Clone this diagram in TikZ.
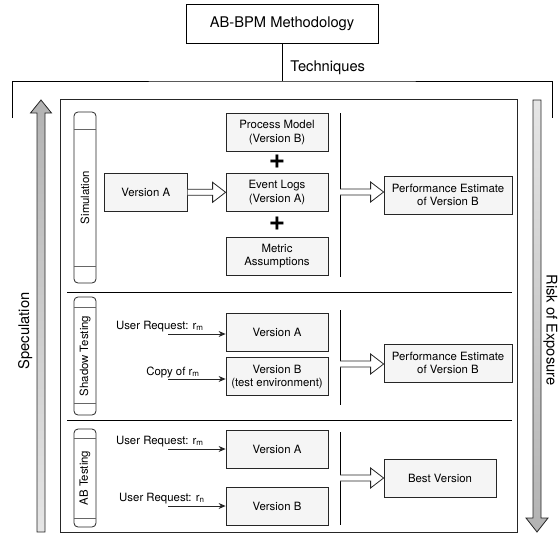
\documentclass[tikz,border=0pt]{standalone}
\usepackage{fontspec}
\setmainfont{TeX Gyre Heros}
\usetikzlibrary{arrows.meta,positioning,calc}

% hollow block arrow between two points
\newcommand\blockarrow[2]{%
  \draw[blk] ($(#1)+(0,-3)$) -- ($(#2)+(-13,-3)$) -- ($(#2)+(-13,-10)$) -- (#2)
    -- ($(#2)+(-13,10)$) -- ($(#2)+(-13,3)$) -- ($(#1)+(0,3)$);}

\begin{document}
\begin{tikzpicture}[
  x=1pt, y=-1pt,
  line width=0.8pt,
  title/.style={draw, fill=white, minimum width=192pt, minimum height=39pt, font=\fontsize{14.7}{17}\selectfont},
  big/.style={font=\fontsize{14.7}{17}\selectfont, inner sep=0pt},
  box/.style={draw=black!85, fill=gray!8, minimum width=102pt, minimum height=38pt, inner sep=2pt, align=center, font=\fontsize{11.4}{13.5}\selectfont},
  tag/.style={rotate=90, draw=black!85, fill=white, rounded corners=4pt, minimum height=22pt, inner sep=0pt, font=\fontsize{11.4}{13}\selectfont},
  band/.style={draw=black!60},
  lbl/.style={font=\fontsize{11.4}{13}\selectfont, inner sep=0pt},
  plus/.style={font=\fontsize{28}{28}\selectfont\bfseries, inner sep=0pt},
  arr/.style={-{Stealth[length=7pt, width=6pt]}, draw=black!85},
  blk/.style={draw=black!85, fill=white}
]
  \useasboundingbox (0,0) rectangle (559,533);

  % top of the tree
  \node[title] (meth) at (282,23.5) {AB-BPM Methodology};
  \coordinate (bar) at (282,81);
  \coordinate (bl) at (12,118);
  \coordinate (br) at (552,118);
  \draw (meth) -- (bar);
  \draw (bl) |- (bar) -| (br);
  \node[big, anchor=base west] (tech) at (290,71) {Techniques};

  % frame and side arrows
  \draw[black!85] (60,99) rectangle (517,532);
  \shadedraw[draw=black!85, bottom color=gray!20, top color=gray!60]
    (37,532) -- (37,113) -- (30.5,113) -- (41,100) -- (51.5,113) -- (45,113) -- (45,532) -- cycle;
  \shadedraw[draw=black!85, top color=gray!20, bottom color=gray!60]
    (533,100) -- (533,518) -- (526,518) -- (537,532) -- (548,518) -- (541,518) -- (541,100) -- cycle;
  \node[big, rotate=90, anchor=base] (spec) at (29,331) {Speculation};
  \node[big, rotate=-90, anchor=base] (risk) at (546.5,330) {Risk of Exposure};

  \draw (67,292) -- (512,292);
  \draw (67,420) -- (512,420);

  % simulation
  \node[tag, minimum width=171pt] (simtag) at (85,197.5) {Simulation};
  \draw[band] (74,129) -- (96,129);
  \draw[band] (74,266) -- (96,266);
  \node[box] (procb) at (277,132.5) {Process Model\\(Version B)};
  \node[box, below=21pt of procb] (logs) {Event Logs\\(Version A)};
  \node[box, below=25pt of logs] (metric) {Metric\\Assumptions};
  \node[box, minimum width=83pt, left=38pt of logs] (vera) {Version A};
  \node[plus] (plusa) at (277,162) {+};
  \node[plus] (plusb) at (277,223.5) {+};
  \node[box, minimum width=128pt] (perfsim) at (448,195) {Performance Estimate\\of Version B};
  \coordinate (simtop) at (340,113);
  \coordinate (simbot) at (340,277);
  \coordinate (simjoin) at (340,192);
  \coordinate (simtip) at (perfsim.west |- simjoin);
  \draw (simtop) -- (simbot);
  \blockarrow{vera.east}{logs.west}
  \blockarrow{simjoin}{simtip}

  % shadow testing
  \node[tag, minimum width=118pt] (shtag) at (85,356) {Shadow Testing};
  \draw[band] (74,307) -- (96,307);
  \draw[band] (74,403) -- (96,403);
  \node[box] (sva) at (277,332) {Version A};
  \node[box, below=6pt of sva] (svb) {Version B\\(test environment)};
  \node[box, minimum width=128pt] (perfsh) at (448,363) {Performance Estimate\\of Version B};
  \coordinate (in1) at (168,334);
  \coordinate (in2) at (168,379);
  \node[lbl, anchor=base east] (req1) at (204,329) {User Request: r\textsubscript{m}};
  \node[lbl, anchor=base east] (copy1) at (200,375) {Copy of r\textsubscript{m}};
  \draw[arr] (in1) -- (sva.west |- in1);
  \draw[arr] (in2) -- (svb.west |- in2);
  \coordinate (shtop) at (340,310);
  \coordinate (shbot) at (340,405);
  \coordinate (shjoin) at (340,364);
  \coordinate (shtip) at (perfsh.west |- shjoin);
  \draw (shtop) -- (shbot);
  \blockarrow{shjoin}{shtip}

  % ab testing
  \node[tag, minimum width=98pt] (abtag) at (85,478) {AB Testing};
  \draw[band] (74,438) -- (96,438);
  \draw[band] (74,518) -- (96,518);
  \node[box] (aba) at (277,449.5) {Version A};
  \node[box, below=18pt of aba] (abb) {Version B};
  \node[box, minimum width=112pt] (best) at (440,478.5) {Best Version};
  \coordinate (in3) at (168,449);
  \coordinate (in4) at (168,506);
  \node[lbl, anchor=base east] (req2) at (204,444) {User Request: r\textsubscript{m}};
  \node[lbl, anchor=base east] (req3) at (205,501) {User Request: r\textsubscript{n}};
  \draw[arr] (in3) -- (aba.west |- in3);
  \draw[arr] (in4) -- (abb.west |- in4);
  \coordinate (abtop) at (340,432);
  \coordinate (abbot) at (340,525);
  \coordinate (abjoin) at (340,478);
  \coordinate (abtip) at (best.west |- abjoin);
  \draw (abtop) -- (abbot);
  \blockarrow{abjoin}{abtip}
\end{tikzpicture}
\end{document}
